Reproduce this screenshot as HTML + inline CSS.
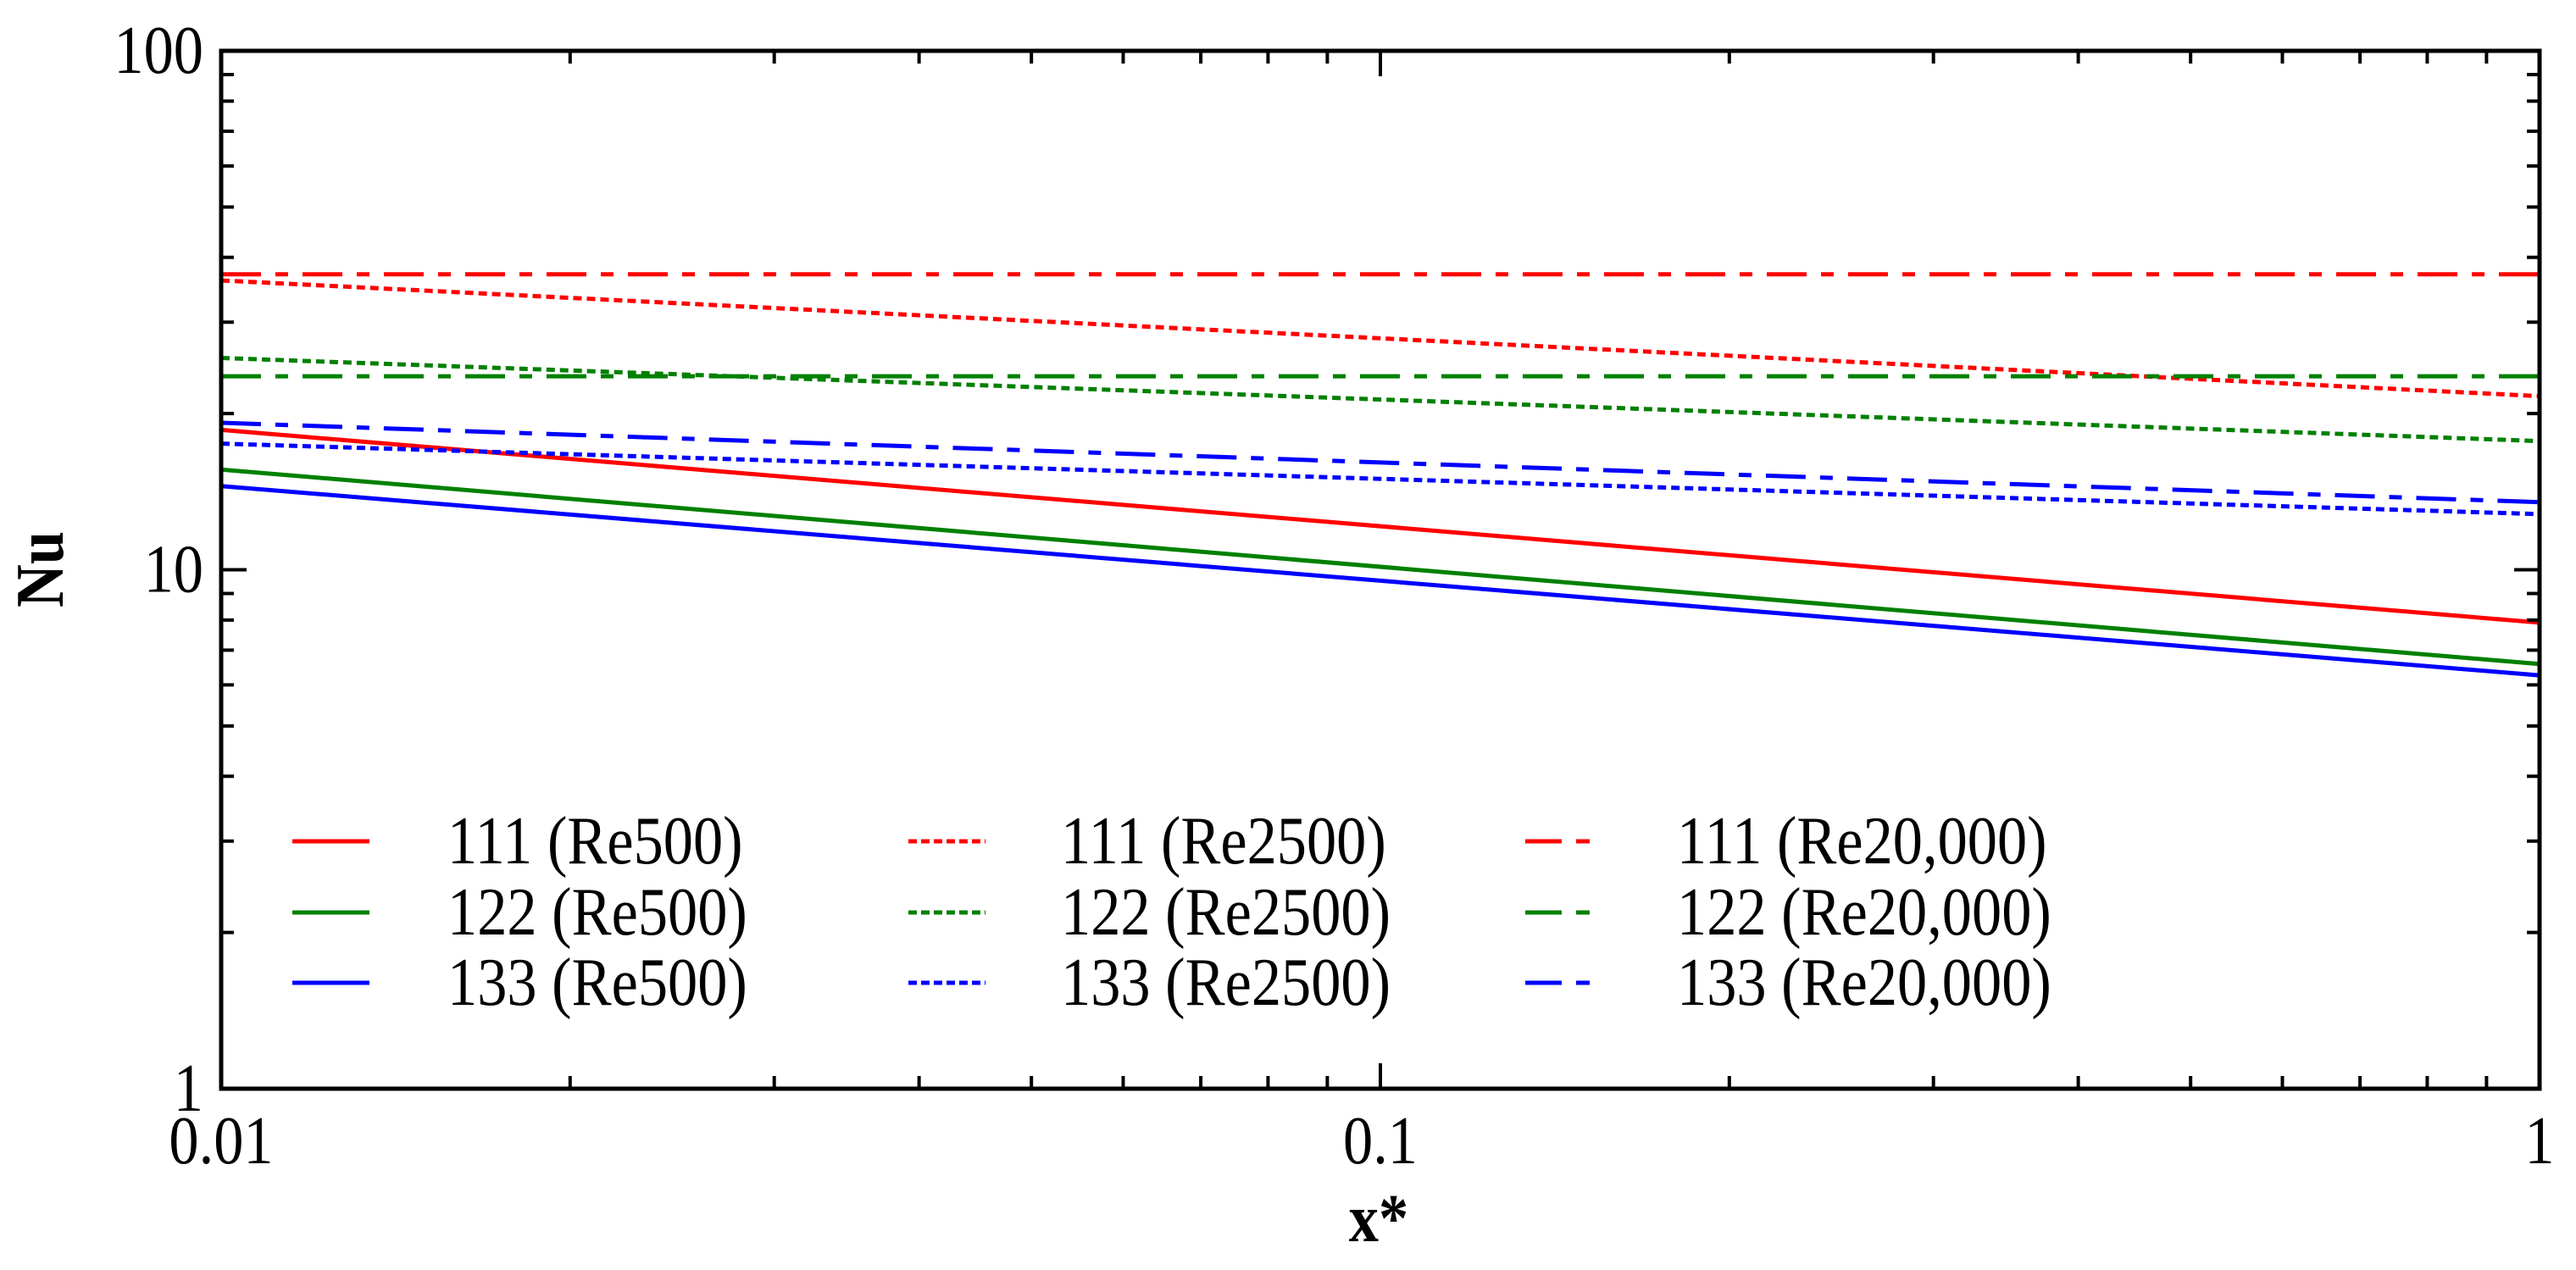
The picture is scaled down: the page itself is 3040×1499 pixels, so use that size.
<!DOCTYPE html>
<html><head><meta charset="utf-8"><style>
html,body{margin:0;padding:0;background:#fff;}
svg{display:block;font-family:"Liberation Serif",serif;}
</style></head><body>
<svg id="chart" width="3040" height="1499" viewBox="0 0 3040 1499" xmlns="http://www.w3.org/2000/svg">
<g id="series"></g>
<g id="axes"></g>
<g id="legend"></g>
</svg>
<script>
const xValues = [0.01, 1];
const nu111Re500 = [18.6, 7.91];
const nu122Re500 = [15.6, 6.58];
const nu133Re500 = [14.5, 6.26];
const nu111Re2500 = [36.1, 21.6];
const nu122Re2500 = [25.6, 17.7];
const nu133Re2500 = [17.5, 12.8];
const nu111Re20000 = [37.1, 37.1];
const nu122Re20000 = [23.6, 23.6];
const nu133Re20000 = [19.2, 13.5];
const xTickLabels = ["0.01", "0.1", "1"];
const yTickLabels = ["1", "10", "100"];
const seriesNames = ["111 (Re500)","122 (Re500)","133 (Re500)","111 (Re2500)","122 (Re2500)","133 (Re2500)","111 (Re20,000)","122 (Re20,000)","133 (Re20,000)"];

const NS="http://www.w3.org/2000/svg";
const L=261,R=2997,T=60,B=1285;
const SX=0.88;
const xs=v=>L+(Math.log10(v)+2)/2*(R-L);
const ys=v=>B-(Math.log10(v))/2*(B-T);
function mk(tag,attrs,parent){const e=document.createElementNS(NS,tag);for(const k in attrs)e.setAttribute(k,attrs[k]);parent.appendChild(e);return e;}
function txt(x,y,attrs,parent,extra){const t=mk('text',Object.assign({x:0,y:0,transform:`translate(${x},${y}) ${extra||''} scale(${SX},1)`},attrs),parent);return t;}

const colors=["#ff0000","#008000","#0000ff"];
const dashes=["", "10 6", "47 17 15 17"];
const legDash=["", "10 5", "43 17 16 50"];
const allSeries=[nu111Re500,nu122Re500,nu133Re500,nu111Re2500,nu122Re2500,nu133Re2500,nu111Re20000,nu122Re20000,nu133Re20000];
const sg=document.getElementById('series');
allSeries.forEach((s,i)=>{
  const pts=s.map((v,j)=>xs(xValues[j]).toFixed(1)+","+ys(v).toFixed(1)).join(" ");
  const p=mk('polyline',{points:pts,fill:"none",stroke:colors[i%3],"stroke-width":5},sg);
  if(dashes[Math.floor(i/3)])p.setAttribute('stroke-dasharray',dashes[Math.floor(i/3)]);
  
  
});

const ag=document.getElementById('axes');
for(let d=0;d<2;d++){
  for(let m=1;m<=9;m++){
    const v=Math.pow(10,d)*m; const len=m===1?30:15;
    if(m===1&&d===0)continue;
    const x=xs(v*0.01), y=ys(v);
    const t1=mk('line',{x1:x,y1:B,x2:x,y2:B-len,stroke:"#000","stroke-width":4},ag);
     
    const t2=mk('line',{x1:x,y1:T,x2:x,y2:T+len,stroke:"#000","stroke-width":4},ag);
     
    const t3=mk('line',{x1:L,y1:y,x2:L+len,y2:y,stroke:"#000","stroke-width":4},ag);
     
    const t4=mk('line',{x1:R,y1:y,x2:R-len,y2:y,stroke:"#000","stroke-width":4},ag);
     
  }
}
const frame=mk('rect',{x:L,y:T,width:R-L,height:B-T,fill:"none",stroke:"#000","stroke-width":5},ag);
 
xTickLabels.forEach((lab,i)=>{
  const t=txt(xs(Math.pow(10,i-2)),1373,{"font-size":80,"text-anchor":"middle"},ag);
  t.textContent=lab;
   
});
yTickLabels.forEach((lab,i)=>{
  const t=txt(240,ys(Math.pow(10,i))+26,{"font-size":80,"text-anchor":"end"},ag);
  t.textContent=lab;
   
});
const xt=txt(1627,1465,{"font-size":80,"font-weight":"bold","text-anchor":"middle"},ag);
xt.textContent="x*";
 
const yt=txt(74,672,{"font-size":80,"font-weight":"bold","text-anchor":"middle"},ag,"rotate(-90)");
yt.textContent="Nu";
 

const lg=document.getElementById('legend');
const colLine=[[345,436],[1072,1163],[1800,1886]];
const colText=[528,1252,1979];
const rowY=[993,1077,1160];
seriesNames.forEach((n,i)=>{
  const c=Math.floor(i/3), r=i%3;
  const ln=mk('line',{x1:colLine[c][0],y1:rowY[r],x2:colLine[c][1],y2:rowY[r],stroke:colors[r],"stroke-width":5},lg);
  if(legDash[c])ln.setAttribute('stroke-dasharray',legDash[c]);
   
  const t=txt(colText[c],rowY[r]+26,{"font-size":80},lg);
  t.textContent=n;
   
});
</script>
</body></html>
